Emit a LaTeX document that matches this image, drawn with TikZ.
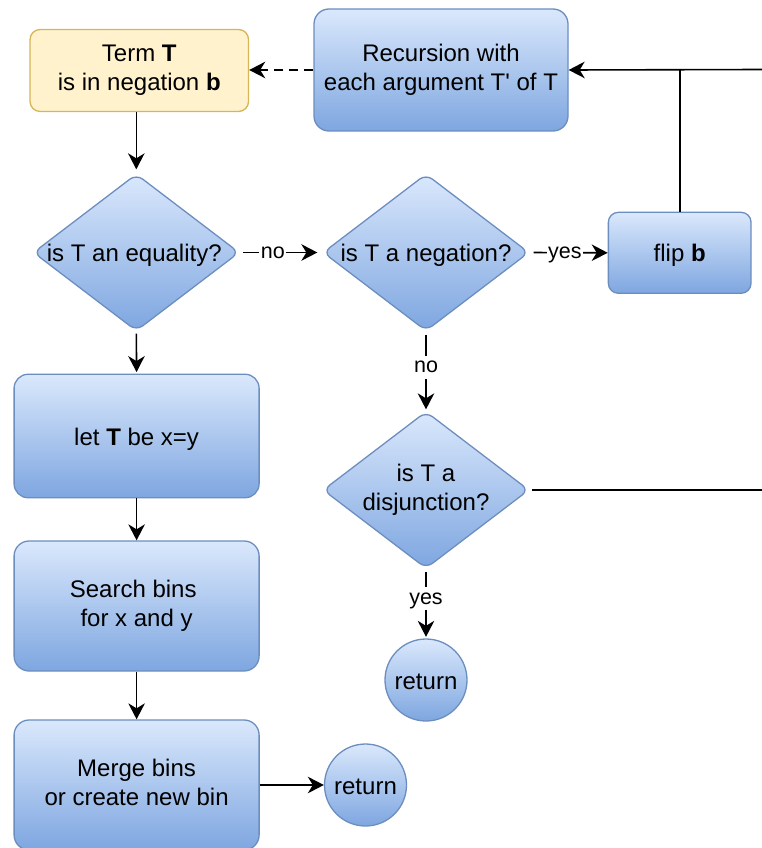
\documentclass[tikz,border=0pt]{standalone}
\usepackage{fontspec}
\setmainfont{Liberation Sans}
\usetikzlibrary{shapes.geometric,arrows.meta}

\definecolor{blueTop}{RGB}{218,232,252}
\definecolor{blueBot}{RGB}{126,166,224}
\definecolor{blueLine}{RGB}{108,142,191}
\definecolor{yellowFill}{RGB}{255,242,204}
\definecolor{yellowLine}{RGB}{214,182,86}

% line-box struts so that text sits in its box like a 1.2em line
\newcommand\nodetopstrut{\rule{0pt}{23.2pt}}
\newcommand\nodebotstrut{\rule[-5.2pt]{0pt}{5.2pt}}

\begin{document}
\begin{tikzpicture}[x=1pt,y=-1pt,
  txt/.style={align=center, inner sep=0pt, font=\fontsize{24}{28.4}\selectfont,
    execute at begin node=\nodetopstrut, execute at end node=\nodebotstrut},
  shaded/.style={draw=blueLine, line width=1.3pt, top color=blueTop, bottom color=blueBot},
  box/.style={rectangle, shaded, txt},
  startbox/.style={rectangle, draw=yellowLine, line width=1.3pt, fill=yellowFill, txt},
  dia/.style={diamond, shaded, minimum width=206pt, minimum height=157pt, inner sep=0pt, rounded corners=8pt},
  endcircle/.style={circle, shaded, txt, minimum size=82pt},
  conn/.style={line width=1.6pt, -{Stealth[length=16pt,width=16.5pt,inset=5pt]}},
  plain/.style={line width=1.6pt},
  lbl/.style={fill=white, inner xsep=1.5pt, inner ysep=6pt, text height=11pt, text depth=0pt,
    font=\fontsize{21.5}{24}\selectfont}
]
\useasboundingbox (0,0) rectangle (762,848);

% start and recursion
\node[startbox, minimum width=218.5pt, minimum height=82pt, rounded corners=10pt] (term) at (139.3,70.5) {Term \textbf{T}\\is in negation \textbf{b}};
\node[box, minimum width=254pt, minimum height=122pt, rounded corners=15pt] (rec) at (441,70) {Recursion with\\each argument T\textquotesingle{} of T};
\node[box, minimum width=142.7pt, minimum height=81pt, rounded corners=10pt] (flip) at (679.7,252.8) {flip \textbf{b}};

% decisions
\node[dia] (eq) at (136.3,252.5) {};
\node[txt] (eqtext) at (eq) {is T an equality?\kern4pt};
\node[dia] (neg) at (426,252.5) {};
\node[txt] (negtext) at (neg) {is T a negation?};
\node[dia] (dis) at (426,490) {};
\node[txt] (distext) at (dis) {is T a\\disjunction?};

% equality branch
\node[box, minimum width=245pt, minimum height=123.5pt, rounded corners=14pt] (lett) at (136.6,436) {let \textbf{T} be x=y};
\node[box, minimum width=245pt, minimum height=130pt, rounded corners=15pt] (search) at (136.6,606) {Search bins\kern6.7pt\\for x and y};
\node[box, minimum width=245pt, minimum height=130pt, rounded corners=15pt] (merge) at (136.6,785) {Merge bins\\or create new bin};

% returns
\node[endcircle] (retA) at (426,680) {return};
\node[endcircle] (retB) at (365.5,785) {return};

% free ends at the right margin
\coordinate (inR) at (762,69.5);
\coordinate (outR) at (762,490);

% connectors
\draw[conn, shorten >=4pt] (term.south -| eq.north) -- (eq.north);
\draw[conn, shorten <=3.5pt, shorten >=5pt] (eq.east) -- node[lbl, pos=0.4] {no} (neg.west);
\draw[conn, shorten <=4pt] (neg.east) -- node[lbl, pos=0.45] {yes} (flip.west);
\draw[conn, shorten <=3pt, shorten >=1.5pt] (neg.south) -- node[lbl, pos=0.45] {no} (dis.north);
\draw[conn, shorten <=3pt, shorten >=1.5pt] (dis.south) -- node[lbl, pos=0.43] {yes} (retA.north);
\draw[plain, shorten <=2.5pt] (dis.east) -- (outR);
\draw[conn] (inR) -- (rec.east);
\draw[plain] (flip.north) -- (flip.north |- rec.east);
\draw[conn, dashed, dash pattern=on 9pt off 6pt] (rec.west) -- (term.east |- rec.west);

\draw[conn, shorten <=2pt, shorten >=1.5pt] (eq.south) -- (lett.north);
\draw[conn] (lett.south) -- (search.north);
\draw[conn] (search.south) -- (merge.north);
\draw[conn] (merge.east) -- (retB.west);
\end{tikzpicture}
\end{document}
